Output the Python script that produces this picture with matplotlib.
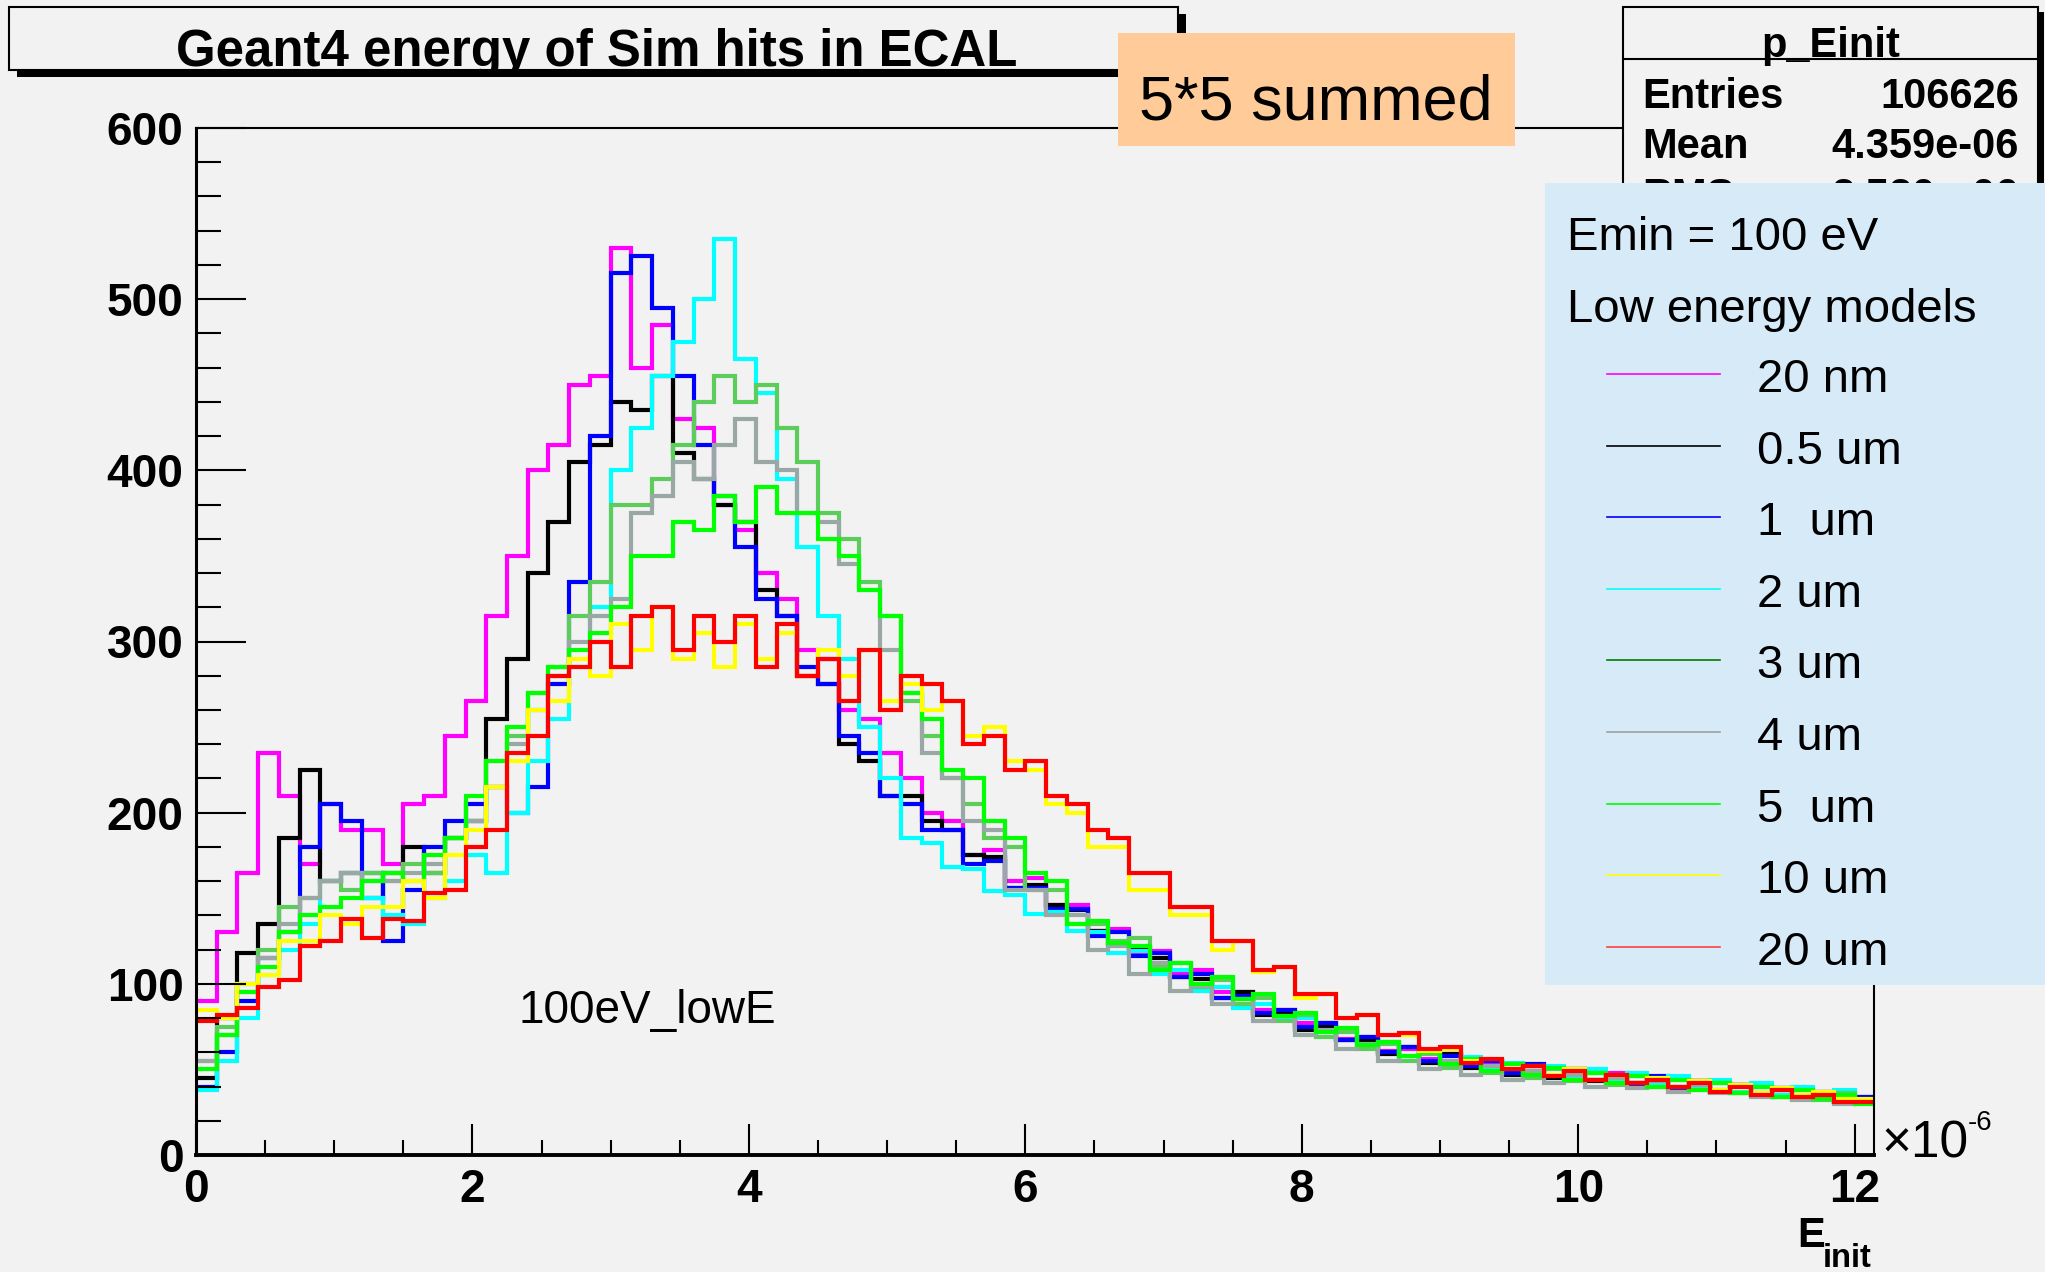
import numpy as np
import matplotlib
matplotlib.use("Agg")
import matplotlib.pyplot as plt
from matplotlib.patches import Rectangle
from matplotlib.lines import Line2D
from matplotlib.ticker import MultipleLocator

# ---------------- data (bin contents, bin width 0.15e-6 starting at 0) ----------------
BIN_WIDTH = 0.15  # units of 1e-6

counts_20nm = [90, 130, 165, 235, 210, 170, 205, 190, 190, 170,
               205, 210, 245, 265, 315, 350, 400, 415, 450, 455,
               530, 460, 485, 430, 425, 380, 365, 340, 325, 295,
               290, 260, 255, 235, 220, 200, 195, 175, 178, 160,
               162, 146, 146, 131, 132, 118, 119, 106, 108, 95,
               95, 85, 85, 77, 77, 68, 69, 61, 62, 56,
               59, 53, 54, 49, 52, 46, 49, 44, 48, 42,
               45, 40, 43, 38, 41, 35, 39, 34, 37, 32,
               34]
counts_05um = [45, 80, 118, 135, 185, 225, 160, 165, 150, 165,
               180, 165, 185, 195, 255, 290, 340, 370, 405, 415,
               440, 435, 455, 410, 395, 380, 370, 330, 315, 280,
               275, 240, 230, 210, 210, 195, 190, 175, 174, 156,
               158, 146, 143, 131, 123, 121, 115, 104, 103, 92,
               95, 82, 83, 73, 75, 67, 67, 59, 63, 54,
               59, 51, 55, 47, 52, 45, 50, 43, 47, 42,
               45, 39, 43, 37, 41, 35, 38, 34, 36, 31,
               33]
counts_1um = [40, 60, 90, 115, 130, 180, 205, 195, 165, 125,
              155, 180, 195, 205, 215, 200, 215, 275, 335, 420,
              515, 525, 495, 455, 415, 385, 355, 325, 315, 285,
              275, 245, 235, 210, 205, 190, 190, 170, 172, 156,
              156, 144, 144, 128, 130, 116, 118, 104, 106, 92,
              93, 83, 85, 75, 77, 67, 69, 60, 63, 55,
              58, 52, 55, 48, 53, 46, 50, 44, 47, 41,
              46, 39, 43, 37, 41, 36, 39, 33, 37, 31,
              34]
counts_2um = [38, 55, 80, 105, 120, 135, 160, 165, 150, 140,
              135, 150, 160, 175, 165, 200, 230, 255, 285, 320,
              400, 425, 455, 475, 500, 535, 465, 445, 395, 355,
              315, 290, 250, 220, 185, 182, 168, 167, 154, 152,
              141, 142, 131, 130, 118, 119, 106, 108, 96, 98,
              86, 88, 79, 80, 72, 72, 64, 66, 58, 60,
              54, 57, 50, 54, 47, 52, 45, 50, 43, 48,
              41, 46, 39, 44, 37, 42, 35, 40, 33, 38,
              31]
counts_3um = [55, 75, 100, 120, 145, 150, 160, 155, 165, 160,
              170, 165, 185, 195, 230, 245, 270, 285, 315, 335,
              380, 380, 395, 415, 440, 455, 440, 450, 425, 405,
              375, 360, 335, 315, 265, 245, 220, 205, 185, 180,
              155, 155, 135, 135, 125, 127, 110, 112, 98, 102,
              88, 92, 78, 82, 69, 72, 62, 65, 55, 59,
              51, 56, 48, 53, 45, 50, 43, 48, 41, 46,
              40, 44, 38, 42, 36, 40, 34, 38, 32, 36,
              31]
counts_4um = [55, 70, 95, 115, 135, 150, 160, 165, 160, 160,
              165, 170, 185, 195, 215, 240, 260, 280, 300, 315,
              325, 375, 385, 405, 395, 415, 430, 405, 400, 375,
              370, 345, 330, 295, 270, 235, 220, 195, 190, 155,
              155, 140, 140, 120, 122, 106, 112, 96, 99, 88,
              91, 78, 81, 70, 73, 62, 65, 55, 58, 50,
              55, 47, 52, 44, 49, 42, 47, 40, 45, 39,
              43, 37, 41, 36, 40, 34, 38, 32, 36, 30,
              32]
counts_5um = [50, 70, 95, 110, 130, 140, 145, 150, 160, 165,
              160, 175, 185, 210, 230, 250, 270, 285, 295, 305,
              320, 350, 350, 370, 365, 385, 370, 390, 375, 375,
              360, 350, 330, 315, 270, 255, 225, 220, 195, 185,
              165, 160, 135, 137, 124, 122, 108, 112, 100, 104,
              91, 94, 81, 83, 72, 74, 64, 66, 58, 60,
              53, 56, 49, 53, 47, 51, 44, 48, 42, 46,
              40, 44, 38, 42, 36, 40, 34, 38, 33, 35,
              30]
counts_10um = [85, 80, 100, 105, 125, 125, 140, 135, 145, 145,
               160, 150, 175, 190, 215, 230, 260, 265, 290, 280,
               310, 295, 320, 290, 305, 285, 310, 290, 305, 280,
               295, 280, 295, 265, 275, 260, 265, 245, 250, 230,
               225, 205, 200, 180, 180, 155, 155, 140, 140, 120,
               125, 107, 110, 92, 94, 80, 82, 70, 70, 61,
               62, 55, 56, 50, 52, 47, 50, 44, 47, 42,
               45, 40, 43, 38, 41, 36, 39, 35, 37, 33,
               33]
counts_20um = [78, 82, 86, 98, 102, 122, 125, 138, 127, 138,
               137, 153, 155, 180, 190, 235, 245, 280, 285, 300,
               285, 315, 320, 295, 315, 300, 315, 285, 310, 280,
               290, 265, 295, 260, 280, 275, 265, 240, 245, 225,
               230, 210, 205, 190, 185, 165, 165, 145, 145, 125,
               125, 108, 110, 94, 94, 80, 82, 70, 71, 62,
               63, 54, 56, 50, 52, 46, 49, 44, 47, 42,
               44, 40, 42, 37, 40, 35, 38, 34, 35, 31,
               31]

series_labels = ["20 nm", "0.5 um", "1  um", "2 um", "3 um", "4 um", "5  um", "10 um", "20 um"]
series_counts = [counts_20nm, counts_05um, counts_1um, counts_2um, counts_3um,
                 counts_4um, counts_5um, counts_10um, counts_20um]
hist_colors = ["#ff00ff", "#000000", "#0000ff", "#00ffff", "#5ccd5a",
               "#99a8a5", "#00ff00", "#ffff00", "#ff0000"]
legend_colors = ["#ff00ff", "#000000", "#0000ff", "#00ffff", "#008000",
                 "#a0a0a0", "#00ff00", "#ffff00", "#ff4040"]

x_ticks = [0, 2, 4, 6, 8, 10, 12]
y_ticks = [0, 100, 200, 300, 400, 500, 600]

stats_rows = [("Entries", "106626"), ("Mean", "4.359e-06"), ("RMS", "2.520e-06")]

# ---------------- figure ----------------
BG = "#f2f2f2"
W, H = 2045, 1272
FONT = "Liberation Sans"
plt.rcParams["font.family"] = [FONT, "DejaVu Sans"]

fig = plt.figure(figsize=(W / 100, H / 100), dpi=100, facecolor=BG)
ax = fig.add_axes([196 / W, (H - 1155) / H, (1874 - 196) / W, (1155 - 128) / H], zorder=1)
ax.set_facecolor(BG)

for counts, col in zip(series_counts, hist_colors):
    edges = np.arange(len(counts) + 1) * BIN_WIDTH
    ax.stairs(counts, edges, baseline=None, color=col, lw=3.0)

ax.set_xlim(0, 12.14)
ax.set_ylim(0, 600)
ax.set_xticks(x_ticks)
ax.set_xticklabels([str(t) for t in x_ticks])
ax.set_yticks(y_ticks)
ax.set_yticklabels([str(t) for t in y_ticks])
ax.xaxis.set_minor_locator(MultipleLocator(0.5))
ax.yaxis.set_minor_locator(MultipleLocator(20))
ax.tick_params(axis="x", which="major", direction="in", length=22, width=1.5, pad=9,
               labelsize=33)
ax.tick_params(axis="x", which="minor", direction="in", length=11, width=1.5)
ax.tick_params(axis="y", which="major", direction="in", length=36, width=1.5, pad=9,
               labelsize=33)
ax.tick_params(axis="y", which="minor", direction="in", length=18, width=1.5)
for lab in ax.get_xticklabels() + ax.get_yticklabels():
    lab.set_fontweight("bold")
ax.spines["bottom"].set_linewidth(2.8)
ax.spines["left"].set_linewidth(2.2)
ax.spines["top"].set_linewidth(1.5)
ax.spines["right"].set_linewidth(1.5)

# ---------------- overlay in pixel coordinates ----------------
ov = fig.add_axes([0, 0, 1, 1], zorder=5)
ov.set_xlim(0, W)
ov.set_ylim(H, 0)
ov.axis("off")
ov.patch.set_alpha(0)

# title box with shadow
ov.add_patch(Rectangle((17, 70), 1169, 7, facecolor="black", edgecolor="none", zorder=1))
ov.add_patch(Rectangle((1178, 14), 8, 63, facecolor="black", edgecolor="none", zorder=1))
ov.add_patch(Rectangle((9, 7), 1169, 63, facecolor=BG, edgecolor="black", lw=1.5, zorder=1))
ov.text(597, 66, "Geant4 energy of Sim hits in ECAL", fontsize=36.7, fontweight="bold",
        ha="center", va="baseline", color="black", zorder=2)

# 5*5 summed label
ov.add_patch(Rectangle((1118, 33), 397, 113, facecolor="#ffcc99", edgecolor="none", zorder=3))
ov.text(1316, 120, "5*5 summed", fontsize=45.4, ha="center", va="baseline", color="black",
        zorder=4)

# stats box
ov.add_patch(Rectangle((2038, 12), 6, 210, facecolor="black", edgecolor="none", zorder=3))
ov.add_patch(Rectangle((1623, 7), 415, 215, facecolor=BG, edgecolor="black", lw=1.5, zorder=3))
ov.plot([1623, 2038], [59, 59], color="black", lw=1.5, zorder=4)
ov.text(1831, 57, "p_Einit", fontsize=30, fontweight="bold", ha="center", va="baseline",
        zorder=4)
for i, (k, v) in enumerate(stats_rows):
    yb = 108 + 50 * i
    ov.text(1642, yb, k, fontsize=30, fontweight="bold", ha="left", va="baseline", zorder=4)
    ov.text(2019, yb, v, fontsize=30, fontweight="bold", ha="right", va="baseline", zorder=4)

# legend
ov.add_patch(Rectangle((1545, 183), 500, 802, facecolor="#d6eaf8", edgecolor="none", zorder=6))
ov.text(1567, 250, "Emin = 100 eV", fontsize=34, ha="left", va="baseline", zorder=7)
ov.text(1567, 322, "Low energy models", fontsize=34, ha="left", va="baseline", zorder=7)
for i, (lab, col) in enumerate(zip(series_labels, legend_colors)):
    yc = 375 + 71.6 * i
    ov.add_line(Line2D([1607, 1720], [yc - 1, yc - 1], color=col, lw=1.2, zorder=7))
    ov.text(1757, yc + 17, lab, fontsize=34, ha="left", va="baseline", zorder=7)

# annotation
ov.text(519, 1023, "100eV_lowE", fontsize=33, ha="left", va="baseline")

# axis title and multiplier
ov.text(1797, 1247, "E", fontsize=30, fontweight="bold", ha="left", va="baseline")
ov.text(1823, 1267, "init", fontsize=23.5, fontweight="bold", ha="left", va="baseline")
ov.text(1881, 1157, "\u00d710", fontsize=37, ha="left", va="baseline")
ov.text(1968, 1130, "-6", fontsize=20, ha="left", va="baseline")

fig.savefig("out.png", dpi=100, facecolor=BG)
